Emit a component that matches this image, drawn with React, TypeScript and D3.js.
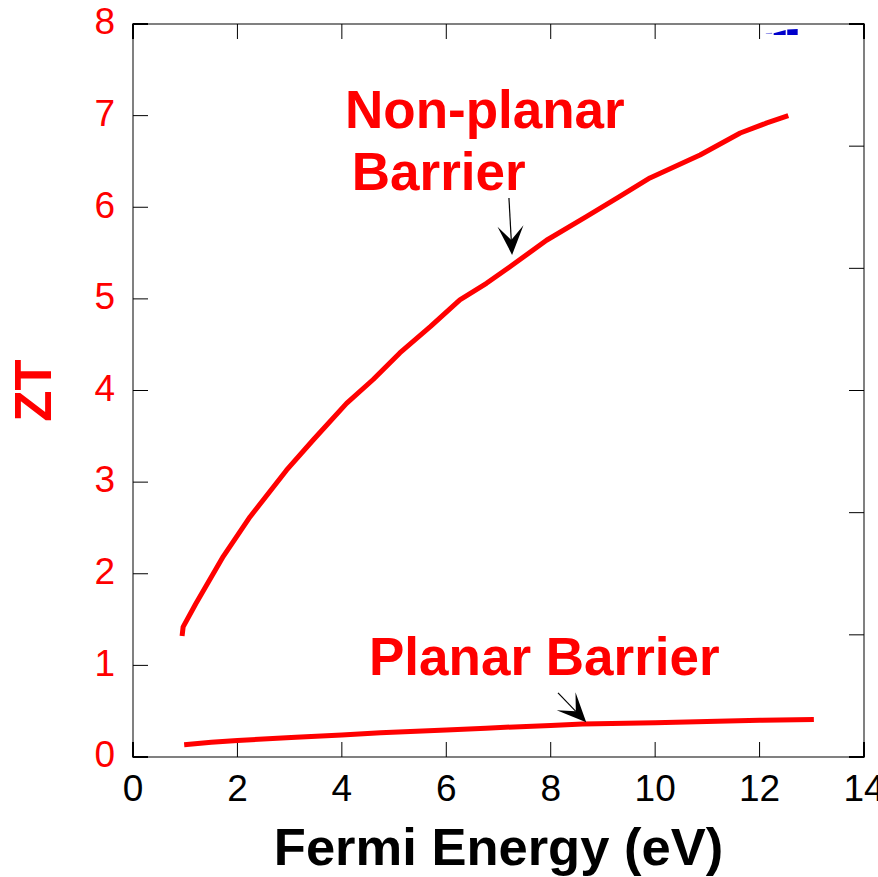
import * as d3 from 'd3';
import { useEffect } from 'react';

// Fermi energy (eV) and ZT
const nonPlanarE = [0.94, 0.96, 1.2, 1.73, 2.24, 2.94, 3.45, 4.09, 4.6, 5.11, 5.7, 6.26, 6.77, 7.22, 7.92, 8.69, 9.3, 9.9, 10.86, 11.63, 12.14, 12.55];
const nonPlanarZT = [1.32, 1.42, 1.67, 2.19, 2.62, 3.13, 3.46, 3.86, 4.12, 4.41, 4.7, 4.99, 5.17, 5.35, 5.64, 5.9, 6.11, 6.32, 6.57, 6.81, 6.92, 7.0];
const planarE = [0.98, 1.5, 2, 3.12, 4, 4.74, 6, 6.76, 8, 8.61, 10, 11.19, 12, 13.04];
const planarZT = [0.134, 0.16, 0.18, 0.215, 0.24, 0.265, 0.295, 0.315, 0.345, 0.36, 0.375, 0.39, 0.4, 0.41];

const xTicks = [0, 2, 4, 6, 8, 10, 12, 14];
const yTicks = [0, 1, 2, 3, 4, 5, 6, 7, 8];
const rightTicks = [0, 1, 2, 3, 4, 5, 6];

const W = 878;
const H = 877;
const margin = { left: 133, top: 24, right: 14, bottom: 120 };
const FONT = '"Liberation Sans", Arial, sans-serif';

export default function App() {
  useEffect(() => {
    document.body.style.margin = '0';
  }, []);

  const x = d3.scaleLinear().domain([0, 14]).range([margin.left, W - margin.right]);
  const y = d3.scaleLinear().domain([0, 8]).range([H - margin.bottom, margin.top]);
  const yr = d3.scaleLinear().domain([0, 6]).range([H - margin.bottom, margin.top]);

  const line = d3.line<[number, number]>()
    .x((d) => x(d[0]))
    .y((d) => y(d[1]));

  const nonPlanar = nonPlanarE.map((e, i) => [e, nonPlanarZT[i]] as [number, number]);
  const planar = planarE.map((e, i) => [e, planarZT[i]] as [number, number]);

  const x0 = x(0);
  const x1 = x(14);
  const y0 = y(0);
  const y1 = y(8);
  const tl = 15;

  // arrow with barbed head, ends in data coords
  const arrow = (from: [number, number], to: [number, number]) => {
    const ax = x(from[0]);
    const ay = y(from[1]);
    const bx = x(to[0]);
    const by = y(to[1]);
    const len = Math.hypot(bx - ax, by - ay);
    const ux = (bx - ax) / len;
    const uy = (by - ay) / len;
    const px = -uy;
    const py = ux;
    const hl = 29;
    const hw = 13;
    const notch = 15;
    const head = [
      [bx, by],
      [bx - ux * hl + px * hw, by - uy * hl + py * hw],
      [bx - ux * notch, by - uy * notch],
      [bx - ux * hl - px * hw, by - uy * hl - py * hw],
    ];
    return (
      <g>
        <line x1={ax} y1={ay} x2={bx - ux * notch} y2={by - uy * notch} stroke="#000" strokeWidth={1.2} />
        <path d={`M${head.map((p) => p.join(',')).join('L')}Z`} fill="#000" />
      </g>
    );
  };

  return (
    <svg width={W} height={H} style={{ display: 'block', background: '#fff' }} fontFamily={FONT}>
      {/* frame */}
      <rect x={x0} y={y1} width={x1 - x0} height={y0 - y1} fill="none" stroke="#808080" strokeWidth={2} />

      {/* bottom & top ticks */}
      {xTicks.map((t) => (
        <g key={`xt${t}`}>
          <line x1={x(t)} x2={x(t)} y1={y0} y2={y0 - tl} stroke="#000" strokeWidth={t === 0 || t === 14 ? 2 : 1} />
          <line x1={x(t)} x2={x(t)} y1={y1} y2={y1 + tl} stroke="#000" strokeWidth={t === 0 || t === 14 ? 2 : 1} />
          <text x={x(t)} y={801} textAnchor="middle" fontSize={37} fill="#000">{t}</text>
        </g>
      ))}

      {/* left ticks */}
      {yTicks.map((t) => (
        <g key={`yt${t}`}>
          <line x1={x0} x2={x0 + tl} y1={y(t)} y2={y(t)} stroke="#000" strokeWidth={t === 0 || t === 8 ? 2 : 1} />
          <text x={115} y={y(t) - 3} dy="0.36em" textAnchor="end" fontSize={37} fill="#ff0000">{t}</text>
        </g>
      ))}

      {/* right ticks */}
      {rightTicks.map((t) => (
        <line key={`rt${t}`} x1={x1} x2={x1 - tl} y1={yr(t)} y2={yr(t)} stroke="#000" strokeWidth={t === 0 || t === 6 ? 2 : 1} />
      ))}

      {/* small blue fragment near top */}
      <path d={`M${x(12.27)},${y(7.9)}L${x(12.5)},${y(7.935)}L${x(12.5)},${y(7.88)}L${x(12.27)},${y(7.88)}Z`} fill="#0000cc" />
      <path d={`M${x(12.53)},${y(7.94)}L${x(12.73)},${y(7.945)}L${x(12.73)},${y(7.88)}L${x(12.53)},${y(7.88)}Z`} fill="#0000cc" />
      <path d={`M${x(12.12)},${y(7.9)}L${x(12.24)},${y(7.905)}L${x(12.24)},${y(7.89)}L${x(12.12)},${y(7.89)}Z`} fill="#9090e8" />

      {/* curves */}
      <path d={line(nonPlanar) ?? ''} fill="none" stroke="#ff0000" strokeWidth={5} strokeLinejoin="round" />
      <path d={line(planar) ?? ''} fill="none" stroke="#ff0000" strokeWidth={5} strokeLinejoin="round" />

      {/* annotations */}
      <text x={x(4.06)} y={y(6.87)} fontSize={53} fontWeight="bold" fill="#ff0000">Non-planar</text>
      <text x={x(4.19)} y={y(6.19)} fontSize={53} fontWeight="bold" fill="#ff0000">Barrier</text>
      <text x={x(4.52)} y={y(0.9)} fontSize={53} fontWeight="bold" fill="#ff0000">Planar Barrier</text>
      {arrow([7.2, 6.1], [7.26, 5.48])}
      {arrow([8.14, 0.7], [8.68, 0.38])}

      {/* axis titles */}
      <text x={(x0 + x1) / 2} y={865} textAnchor="middle" fontSize={52.5} fontWeight="bold" fill="#000">Fermi Energy (eV)</text>
      <text transform={`translate(51,${(y0 + y1) / 2}) rotate(-90)`} textAnchor="middle" fontSize={51} fontWeight="bold" fill="#ff0000">ZT</text>
    </svg>
  );
}
